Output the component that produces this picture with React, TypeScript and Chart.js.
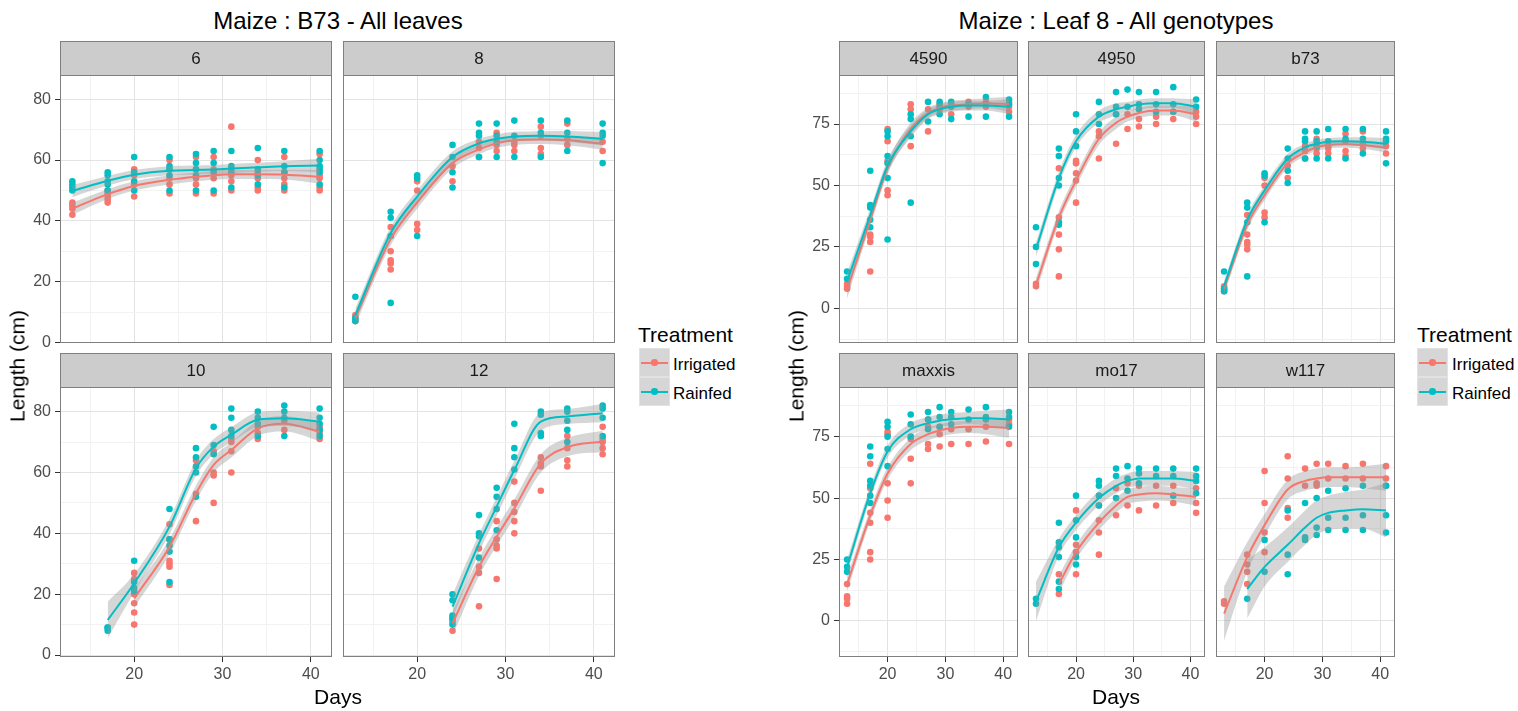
import React, { useEffect, useRef } from 'react';
import { Chart, registerables } from 'chart.js';

Chart.register(...registerables);

const FONT = '"Liberation Sans", Arial, Helvetica, sans-serif';
const IRR_COLOR = '#F8766D';
const RAIN_COLOR = '#00BFC4';
const RIBBON_FILL = 'rgba(153,153,153,0.4)';
const GRID_MAJOR = '#E3E3E3';
const GRID_MINOR = '#F2F2F2';
const BORDER_COLOR = '#7F7F7F';
const STRIP_FILL = '#CCCCCC';
const TICK_TEXT = '#4D4D4D';

// ---------------- data ----------------
const DAYS = [13, 17, 20, 24, 27, 29, 31, 34, 37, 41];
const TREATMENTS = ['Irrigated', 'Rainfed'];
const X_TICKS = [15, 20, 25, 30, 35, 40];
const X_LABELS = [20, 30, 40];
const LEFT_Y_TICKS = [0, 10, 20, 30, 40, 50, 60, 70, 80];
const LEFT_Y_LABELS = [0, 20, 40, 60, 80];
const RIGHT_Y_TICKS = [-12.5, 0, 12.5, 25, 37.5, 50, 62.5, 75, 87.5];
const RIGHT_Y_LABELS = [0, 25, 50, 75];

const LEFT_TITLE = 'Maize : B73 - All leaves';
const RIGHT_TITLE = 'Maize : Leaf 8 - All genotypes';
const X_TITLE = 'Days';
const Y_TITLE = 'Length (cm)';
const LEGEND_TITLE = 'Treatment';

// Leaf 6 (B73)
const leaf6IrrPts = [[42, 44, 45, 46], [46, 47, 48, 49, 50], [48, 52, 55, 57], [49, 52, 54, 57, 60], [49, 52, 54, 57, 61], [49, 54, 57, 61], [50, 53, 55, 57, 71], [50, 51, 54, 56, 60], [50, 52, 54, 56, 61], [50, 51, 54, 55, 62]];
const leaf6RainPts = [[50, 51, 52, 53], [50, 52, 53, 55, 56], [50, 53, 56, 61], [50, 55, 57, 58, 61], [50, 55, 57, 59, 62], [50, 56, 59, 63], [51, 56, 58, 63], [52, 55, 57, 64], [51, 56, 58, 63], [52, 56, 57, 58, 60, 63]];
const leaf6IrrFit = [44, 48.8, 51.5, 53.5, 54.5, 55, 55.3, 55.3, 55.2, 54.5];
const leaf6IrrSe = [2, 1.6, 1.5, 1.5, 1.5, 1.5, 1.5, 1.5, 1.6, 2.2];
const leaf6RainFit = [49.8, 53.2, 55.2, 56.5, 56.7, 56.9, 57.2, 57.6, 58, 58.2];
const leaf6RainSe = [2, 1.6, 1.5, 1.5, 1.5, 1.5, 1.5, 1.5, 1.6, 2.2];

// Leaf 8 (B73) — also the "b73" genotype panel
const leaf8IrrPts = [[7, 8, 9], [24, 26, 27, 30, 38], [37, 39, 50, 53], [53, 58], [61, 64, 66], [63, 65, 69], [63, 65, 66], [62, 64, 68, 71], [65, 67, 72], [63, 66]];
const leaf8RainPts = [[7, 8, 15], [13, 35, 41, 43], [35, 54, 55], [51, 56, 61, 65], [61, 68, 69, 72], [61, 66, 68, 72], [61, 68, 73], [61, 69, 73], [63, 69, 73], [59, 68, 69, 72]];
const leaf8IrrFit = [8, 34, 46, 59, 63.5, 65.5, 66.5, 66.8, 66.5, 65.4];
const leaf8IrrSe = [2.2, 2, 2, 1.8, 1.5, 1.5, 1.5, 1.5, 1.6, 2];
const leaf8RainFit = [9, 36, 48, 61, 65.5, 67, 67.8, 68, 67.8, 67];
const leaf8RainSe = [2.2, 2, 2, 1.8, 1.5, 1.5, 1.5, 1.5, 1.8, 2.2];

// Leaf 10 (B73)
const leaf10IrrPts = [[], [], [10, 14, 17, 20, 25, 27], [23, 29, 30, 31, 38, 43], [44, 53, 64], [50, 59, 60, 67], [60, 67, 70, 71], [71, 73, 75], [74, 77], [71, 73, 74, 75]];
const leaf10RainPts = [[], [8, 9, 9], [21, 22, 24, 31], [24, 34, 36, 38, 48], [52, 60, 62, 65, 68], [66, 69, 75], [72, 74, 78, 81], [72, 76, 78, 80], [72, 78, 80, 82], [72, 74, 76, 78, 81]];
const leaf10IrrFit = [null, null, 18.6, 35.6, 53.2, 62.5, 67.4, 74.5, 76, 73.4];
const leaf10IrrSe = [null, null, 3, 2.5, 2.5, 2.5, 2.5, 2.5, 2.5, 3];
const leaf10RainFit = [null, 11.5, 23.6, 42.2, 61.4, 68.5, 72.4, 77.3, 77.8, 76.7];
const leaf10RainSe = [null, 6, 3, 2.5, 2.5, 2.5, 2.5, 2.5, 2.5, 3];

// Leaf 12 (B73)
const leaf12IrrPts = [[], [], [], [8, 11, 12], [16, 27, 29, 35], [25, 35, 36, 38, 44], [40, 44, 47, 50, 57], [54, 62, 63, 65], [62, 64, 68, 72], [66, 68, 70, 71, 75]];
const leaf12RainPts = [[], [], [], [10, 12, 13, 18, 20], [32, 39, 40, 46], [41, 48, 52, 55], [61, 65, 68, 76], [72, 73, 79, 80], [70, 74, 77, 80, 81], [72, 78, 81, 82]];
const leaf12IrrFit = [null, null, null, 10.4, 29, 38.9, 48.2, 63, 68.3, 70.2];
const leaf12IrrSe = [null, null, null, 4, 3, 3, 3, 3, 3, 3.5];
const leaf12RainFit = [null, null, null, 15.9, 36.7, 48.8, 60.8, 76.7, 78.4, 79.5];
const leaf12RainSe = [null, null, null, 4, 3, 3, 3, 3, 2.5, 3];

// Genotype 4590 (leaf 8)
const g4590IrrPts = [[8, 9, 10], [15, 27, 29, 30], [46, 48, 60, 68, 73], [66, 81, 83], [72, 81], [81, 83], [79, 83], [82, 84], [82, 84], [80, 82, 84]];
const g4590RainPts = [[12, 15], [33, 36, 41, 42, 56], [28, 53, 59, 62, 70, 72], [43, 70, 77, 79], [76, 84], [79, 82, 84], [77, 82, 84], [78, 83], [78, 83, 86], [78, 83, 85]];
const g4590IrrFit = [7.5, 36, 57, 73, 79.5, 81.5, 82.5, 83, 83.5, 83];
const g4590IrrSe = [3.5, 2.5, 2.5, 2.5, 2, 2, 2, 2, 2, 3];
const g4590RainFit = [11, 38, 58, 72, 79, 81, 82, 82.5, 82.5, 82];
const g4590RainSe = [3.5, 2.5, 2.5, 2.5, 2, 2, 2, 2, 2, 3];

// Genotype 4950
const g4950IrrPts = [[9, 10], [13, 24, 30, 37, 57], [43, 52, 55, 59, 60], [61, 70, 72], [67, 79], [73, 79], [74, 77], [75, 78], [77, 80], [75, 78, 80]];
const g4950RainPts = [[18, 25, 33], [34, 35, 50, 53, 62, 65], [66, 72, 79], [75, 79, 84], [79, 82, 88], [82, 89], [81, 83, 88], [80, 83, 88], [80, 83, 90], [82, 85]];
const g4950IrrFit = [9.5, 37, 52, 69, 75.5, 78, 79.5, 80.5, 80.5, 79];
const g4950IrrSe = [3, 2.5, 2.5, 2.5, 2.5, 2, 2, 2, 2, 3];
const g4950RainFit = [24, 53, 68, 78, 81, 82, 83, 83.5, 83.5, 82];
const g4950RainSe = [3, 2.5, 2.5, 2.5, 2.5, 2, 2, 2, 2, 3];

// Genotype maxxis
const maxxisIrrPts = [[7, 9, 10, 15], [25, 28, 40, 44, 54, 64], [42, 49, 56, 76, 77], [56, 66, 74], [70, 72, 79, 82], [71, 76, 79], [72, 78], [72, 78], [73, 79], [72, 80, 82]];
const maxxisRainPts = [[20, 22, 25], [48, 51, 55, 57, 67, 71], [63, 70, 75, 79, 81], [75, 80, 84], [78, 82, 85], [79, 83, 87], [80, 83, 85], [82, 86], [82, 83, 87], [79, 83, 85]];
const maxxisIrrFit = [15, 43, 60, 72, 76, 77.5, 78.5, 79, 79, 78.5];
const maxxisIrrSe = [3, 2.5, 2.5, 2.5, 2.5, 2.5, 2.5, 2.5, 3, 4];
const maxxisRainFit = [22, 52, 69, 78, 80.5, 81.5, 82, 82.5, 82.5, 82];
const maxxisRainSe = [3, 2.5, 2.5, 2.5, 2.5, 2.5, 2.5, 2.5, 3, 4];

// Genotype mo17
const mo17IrrPts = [[], [11, 19], [19, 28, 31, 45], [27, 36, 41, 47], [43, 54], [47, 56], [45, 55], [47, 55], [48, 55], [44, 48, 54]];
const mo17RainPts = [[7, 9], [13, 16, 26, 30, 32, 40], [23, 26, 34, 41, 51], [47, 51, 55, 57], [50, 59, 62], [53, 58, 63], [56, 60, 62], [59, 62], [51, 59, 62], [52, 57, 59, 62]];
const mo17IrrFit = [null, 15, 28, 40, 47, 50.5, 51.5, 52, 51.5, 50.5];
const mo17IrrSe = [null, 3.5, 3, 3, 3, 3, 3, 3, 3, 3.5];
const mo17RainFit = [8, 30, 40, 50, 55, 57, 58, 58, 58, 57];
const mo17RainSe = [8, 3.5, 3, 3, 3, 3, 3, 3, 3, 3.5];

// Genotype w117
const w117IrrPts = [[7, 8], [15, 20, 23, 27], [28, 36, 48, 61], [42, 46, 58, 67], [55, 62], [55, 56, 64], [58, 64], [58, 63], [58, 64], [55, 58, 63]];
const w117RainPts = [[], [9], [20, 33], [19, 27, 45], [33, 34, 48], [35, 38, 50], [37, 42, 53], [37, 42, 54], [37, 43, 55], [36, 43, 55]];
const w117IrrFit = [3, 26, 39, 53.5, 57, 58, 58.5, 58.5, 58.5, 58.5];
const w117IrrSe = [11, 6, 4.5, 4, 4, 4, 4, 4, 4.5, 5.5];
const w117RainFit = [null, 13, 22, 31, 38, 42, 44, 45, 45.5, 45];
const w117RainSe = [null, 12, 8, 7, 7, 7, 7, 7.5, 8, 11];

// ---------------- layout ----------------
const STRIP_H = 34;
const M = 16;
const Y_AXIS_W = 50;
const X_AXIS_H = 30;
const POINT_R = 3.3;

type Series = (number | null)[];
interface PanelDef {
  label: string;
  irrPts: number[][];
  rainPts: number[][];
  irrFit: Series;
  irrSe: Series;
  rainFit: Series;
  rainSe: Series;
  plotLeft: number;
  stripTop: number;
  plotW: number;
  plotH: number;
  firstCol: boolean;
  bottomRow: boolean;
  xMin: number;
  xMax: number;
  yMin: number;
  yMax: number;
  yTicks: number[];
  yLabels: number[];
}

const LEFT_ROW1 = { stripTop: 41, plotH: 268, yMin: -0.2, yMax: 88.0 };
const LEFT_ROW2 = { stripTop: 353, plotH: 270, yMin: -0.65, yMax: 88.1 };
const RIGHT_ROW1 = { stripTop: 41, plotH: 268, yMin: -14.1, yMax: 94.95 };
const RIGHT_ROW2 = { stripTop: 353, plotH: 270, yMin: -14.65, yMax: 95.2 };
const LEFT_X = { xMin: 11.6, xMax: 42.4, yTicks: LEFT_Y_TICKS, yLabels: LEFT_Y_LABELS };
const RIGHT_X = { xMin: 11.6, xMax: 42.55, yTicks: RIGHT_Y_TICKS, yLabels: RIGHT_Y_LABELS };

const PANELS: PanelDef[] = [
  { label: '6', irrPts: leaf6IrrPts, rainPts: leaf6RainPts, irrFit: leaf6IrrFit, irrSe: leaf6IrrSe, rainFit: leaf6RainFit, rainSe: leaf6RainSe, plotLeft: 60, plotW: 272, firstCol: true, bottomRow: false, ...LEFT_ROW1, ...LEFT_X },
  { label: '8', irrPts: leaf8IrrPts, rainPts: leaf8RainPts, irrFit: leaf8IrrFit, irrSe: leaf8IrrSe, rainFit: leaf8RainFit, rainSe: leaf8RainSe, plotLeft: 343, plotW: 272, firstCol: false, bottomRow: false, ...LEFT_ROW1, ...LEFT_X },
  { label: '10', irrPts: leaf10IrrPts, rainPts: leaf10RainPts, irrFit: leaf10IrrFit, irrSe: leaf10IrrSe, rainFit: leaf10RainFit, rainSe: leaf10RainSe, plotLeft: 60, plotW: 272, firstCol: true, bottomRow: true, ...LEFT_ROW2, ...LEFT_X },
  { label: '12', irrPts: leaf12IrrPts, rainPts: leaf12RainPts, irrFit: leaf12IrrFit, irrSe: leaf12IrrSe, rainFit: leaf12RainFit, rainSe: leaf12RainSe, plotLeft: 343, plotW: 272, firstCol: false, bottomRow: true, ...LEFT_ROW2, ...LEFT_X },
  { label: '4590', irrPts: g4590IrrPts, rainPts: g4590RainPts, irrFit: g4590IrrFit, irrSe: g4590IrrSe, rainFit: g4590RainFit, rainSe: g4590RainSe, plotLeft: 839, plotW: 179, firstCol: true, bottomRow: false, ...RIGHT_ROW1, ...RIGHT_X },
  { label: '4950', irrPts: g4950IrrPts, rainPts: g4950RainPts, irrFit: g4950IrrFit, irrSe: g4950IrrSe, rainFit: g4950RainFit, rainSe: g4950RainSe, plotLeft: 1028, plotW: 177, firstCol: false, bottomRow: false, ...RIGHT_ROW1, ...RIGHT_X },
  { label: 'b73', irrPts: leaf8IrrPts, rainPts: leaf8RainPts, irrFit: leaf8IrrFit, irrSe: leaf8IrrSe, rainFit: leaf8RainFit, rainSe: leaf8RainSe, plotLeft: 1216, plotW: 179, firstCol: false, bottomRow: false, ...RIGHT_ROW1, ...RIGHT_X },
  { label: 'maxxis', irrPts: maxxisIrrPts, rainPts: maxxisRainPts, irrFit: maxxisIrrFit, irrSe: maxxisIrrSe, rainFit: maxxisRainFit, rainSe: maxxisRainSe, plotLeft: 839, plotW: 179, firstCol: true, bottomRow: true, ...RIGHT_ROW2, ...RIGHT_X },
  { label: 'mo17', irrPts: mo17IrrPts, rainPts: mo17RainPts, irrFit: mo17IrrFit, irrSe: mo17IrrSe, rainFit: mo17RainFit, rainSe: mo17RainSe, plotLeft: 1028, plotW: 177, firstCol: false, bottomRow: true, ...RIGHT_ROW2, ...RIGHT_X },
  { label: 'w117', irrPts: w117IrrPts, rainPts: w117RainPts, irrFit: w117IrrFit, irrSe: w117IrrSe, rainFit: w117RainFit, rainSe: w117RainSe, plotLeft: 1216, plotW: 179, firstCol: false, bottomRow: true, ...RIGHT_ROW2, ...RIGHT_X },
];

function pointData(pts: number[][]) {
  const out: { x: number; y: number }[] = [];
  pts.forEach((vals, i) => vals.forEach((v) => out.push({ x: DAYS[i], y: v })));
  return out;
}

function curveData(fit: Series, se: Series, sign: number) {
  const out: { x: number; y: number }[] = [];
  fit.forEach((f, i) => {
    if (f !== null && f !== undefined) out.push({ x: DAYS[i], y: f + sign * ((se[i] as number) || 0) });
  });
  return out;
}

const panelDecor = {
  id: 'panelDecor',
  beforeDraw(chart: any) {
    const { ctx, chartArea: a } = chart;
    ctx.save();
    ctx.fillStyle = '#FFFFFF';
    ctx.fillRect(a.left, a.top, a.right - a.left, a.bottom - a.top);
    ctx.fillStyle = STRIP_FILL;
    ctx.fillRect(a.left, a.top - STRIP_H, a.right - a.left, STRIP_H);
    ctx.strokeStyle = BORDER_COLOR;
    ctx.lineWidth = 1;
    ctx.strokeRect(a.left + 0.5, a.top - STRIP_H + 0.5, a.right - a.left - 1, STRIP_H);
    ctx.restore();
  },
  afterDraw(chart: any) {
    const { ctx, chartArea: a } = chart;
    ctx.save();
    ctx.strokeStyle = BORDER_COLOR;
    ctx.lineWidth = 1;
    ctx.strokeRect(a.left + 0.5, a.top + 0.5, a.right - a.left - 1, a.bottom - a.top - 1);
    ctx.restore();
  },
};

function Panel({ p }: { p: PanelDef }) {
  const ref = useRef<HTMLCanvasElement | null>(null);
  const L = p.firstCol ? Y_AXIS_W : 0;
  const B = p.bottomRow ? X_AXIS_H : 0;
  const width = L + p.plotW + 2 * M;
  const height = STRIP_H + p.plotH + B + 2 * M;

  useEffect(() => {
    if (!ref.current) return;
    const curve = { type: 'line', pointRadius: 0, cubicInterpolationMode: 'monotone', showLine: true };
    const ribbon = { ...curve, borderWidth: 1, borderColor: 'rgba(0,0,0,0)' };
    const chart = new Chart(ref.current, {
      type: 'scatter',
      data: {
        datasets: [
          { label: TREATMENTS[0], data: pointData(p.irrPts), backgroundColor: IRR_COLOR, borderColor: IRR_COLOR, borderWidth: 0, pointRadius: POINT_R, order: 10 },
          { label: TREATMENTS[1], data: pointData(p.rainPts), backgroundColor: RAIN_COLOR, borderColor: RAIN_COLOR, borderWidth: 0, pointRadius: POINT_R, order: 9 },
          { ...ribbon, label: 'irr-upper', data: curveData(p.irrFit, p.irrSe, 1), backgroundColor: RIBBON_FILL, fill: '+1', order: 8 },
          { ...ribbon, label: 'irr-lower', data: curveData(p.irrFit, p.irrSe, -1), fill: false, order: 8 },
          { ...curve, label: 'irr-fit', data: curveData(p.irrFit, p.irrSe, 0), borderColor: IRR_COLOR, borderWidth: 2, fill: false, order: 7 },
          { ...ribbon, label: 'rain-upper', data: curveData(p.rainFit, p.rainSe, 1), backgroundColor: RIBBON_FILL, fill: '+1', order: 6 },
          { ...ribbon, label: 'rain-lower', data: curveData(p.rainFit, p.rainSe, -1), fill: false, order: 6 },
          { ...curve, label: 'rain-fit', data: curveData(p.rainFit, p.rainSe, 0), borderColor: RAIN_COLOR, borderWidth: 2, fill: false, order: 5 },
        ] as any,
      },
      options: {
        animation: false,
        responsive: false,
        devicePixelRatio: 1,
        events: [],
        layout: { padding: { left: M, right: M, top: M, bottom: M } },
        plugins: {
          legend: { display: false },
          tooltip: { enabled: false },
          title: {
            display: true,
            text: p.label,
            fullSize: false,
            align: 'center',
            color: '#1A1A1A',
            font: { family: FONT, size: 17, weight: 'normal', lineHeight: 1.0 },
            padding: { top: 10, bottom: 7 },
          },
        },
        scales: {
          x: {
            type: 'linear',
            min: p.xMin,
            max: p.xMax,
            afterBuildTicks: (s: any) => {
              s.ticks = X_TICKS.map((v) => ({ value: v }));
            },
            afterFit: (s: any) => {
              s.height = B;
            },
            border: { display: false },
            grid: {
              color: (c: any) => (X_LABELS.includes(c.tick?.value) ? GRID_MAJOR : GRID_MINOR),
              lineWidth: 1,
              drawTicks: p.bottomRow,
              tickLength: 5,
              tickWidth: 1,
              tickColor: (c: any) => (X_LABELS.includes(c.tick?.value) ? '#333333' : 'rgba(0,0,0,0)'),
            },
            ticks: {
              display: p.bottomRow,
              autoSkip: false,
              maxRotation: 0,
              padding: 3,
              color: TICK_TEXT,
              font: { family: FONT, size: 16 },
              callback: (v: any) => (X_LABELS.includes(v) ? String(v) : ''),
            },
          },
          y: {
            type: 'linear',
            min: p.yMin,
            max: p.yMax,
            afterBuildTicks: (s: any) => {
              s.ticks = p.yTicks.map((v) => ({ value: v }));
            },
            afterFit: (s: any) => {
              s.width = L;
            },
            border: { display: false },
            grid: {
              color: (c: any) => (p.yLabels.includes(c.tick?.value) ? GRID_MAJOR : GRID_MINOR),
              lineWidth: 1,
              drawTicks: p.firstCol,
              tickLength: 5,
              tickWidth: 1,
              tickColor: (c: any) => (p.yLabels.includes(c.tick?.value) ? '#333333' : 'rgba(0,0,0,0)'),
            },
            ticks: {
              display: p.firstCol,
              autoSkip: false,
              padding: 4,
              color: TICK_TEXT,
              font: { family: FONT, size: 16 },
              callback: (v: any) => (p.yLabels.includes(v) ? String(v) : ''),
            },
          },
        },
      } as any,
      plugins: [panelDecor],
    });
    return () => chart.destroy();
  }, []);

  return (
    <canvas
      ref={ref}
      width={width}
      height={height}
      style={{ position: 'absolute', left: p.plotLeft - L - M, top: p.stripTop - M, width, height }}
    />
  );
}

function Txt({ x, baseline, size, children, align = 'center', color = '#000' }: any) {
  const top = baseline - 0.8465 * size;
  const style: any = {
    position: 'absolute',
    top,
    fontSize: size,
    lineHeight: `${size}px`,
    whiteSpace: 'nowrap',
    color,
  };
  style.left = x;
  if (align === 'center') style.transform = 'translateX(-50%)';
  return <div style={style}>{children}</div>;
}

function YTitle({ cx, cy }: { cx: number; cy: number }) {
  return (
    <div
      style={{
        position: 'absolute',
        left: cx,
        top: cy,
        fontSize: 21,
        lineHeight: '21px',
        whiteSpace: 'nowrap',
        transform: 'translate(-50%, -50%) rotate(-90deg)',
        color: '#000',
      }}
    >
      {Y_TITLE}
    </div>
  );
}

function Legend({ titleLeft, keyLeft, labelLeft }: { titleLeft: number; keyLeft: number; labelLeft: number }) {
  const colors = [IRR_COLOR, RAIN_COLOR];
  const baselines = [370.7, 399];
  return (
    <>
      <Txt x={titleLeft} baseline={342} size={21} align="left">
        {LEGEND_TITLE}
      </Txt>
      {TREATMENTS.map((t, i) => (
        <React.Fragment key={t}>
          <div
            style={{
              position: 'absolute',
              left: keyLeft,
              top: 348 + i * 29,
              width: 31,
              height: 29,
              boxSizing: 'border-box',
              background: '#D6D6D6',
              border: '1px solid #E2E2E2',
            }}
          >
            <div style={{ position: 'absolute', left: 1, right: 1, top: 12.5, height: 2, background: colors[i] }} />
            <div style={{ position: 'absolute', left: 11.2, top: 10.2, width: 6.6, height: 6.6, borderRadius: 3.3, background: colors[i] }} />
          </div>
          <Txt x={labelLeft} baseline={baselines[i]} size={17} align="left">
            {t}
          </Txt>
        </React.Fragment>
      ))}
    </>
  );
}

export default function App() {
  return (
    <div
      style={{
        position: 'absolute',
        left: 0,
        top: 0,
        width: 1518,
        height: 711,
        background: '#FFFFFF',
        fontFamily: FONT,
        overflow: 'hidden',
      }}
    >
      <Txt x={338} baseline={29.3} size={24}>
        {LEFT_TITLE}
      </Txt>
      <Txt x={1116} baseline={29.3} size={24}>
        {RIGHT_TITLE}
      </Txt>
      {PANELS.map((p) => (
        <Panel key={p.label} p={p} />
      ))}
      <YTitle cx={17} cy={366} />
      <YTitle cx={796} cy={366} />
      <Txt x={338} baseline={703.3} size={21}>
        {X_TITLE}
      </Txt>
      <Txt x={1116} baseline={703.3} size={21}>
        {X_TITLE}
      </Txt>
      <Legend titleLeft={638} keyLeft={639} labelLeft={673} />
      <Legend titleLeft={1417} keyLeft={1417} labelLeft={1452} />
    </div>
  );
}
